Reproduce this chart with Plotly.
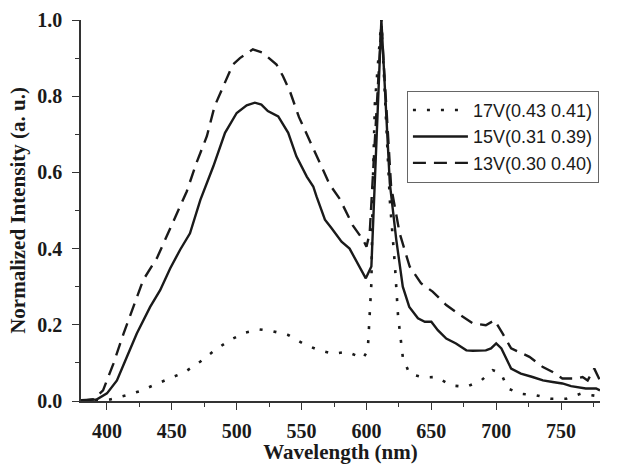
import plotly.graph_objects as go

# 17V (dotted)
wl_17 = [380, 390, 402.5, 415, 425.6, 437, 448.7, 460, 471.8, 483, 494.8, 506.4, 517.4, 528,
         539.7, 551, 562, 574, 585, 597.4, 601, 603.8, 604.8, 606.5, 611.5, 618, 622, 624.4,
         628, 633, 643.5, 653.8, 665, 677, 688.5, 697.4, 703.8, 708.9, 719, 730.8, 742.3,
         754, 765, 776, 780]
int_17 = [0.0, 0.002, 0.004, 0.015, 0.026, 0.043, 0.059, 0.076, 0.103, 0.133, 0.160, 0.179,
          0.188, 0.183, 0.173, 0.151, 0.135, 0.124, 0.129, 0.112, 0.133, 0.309, 0.55, 0.78,
          1.0, 0.528, 0.353, 0.221, 0.116, 0.072, 0.062, 0.063, 0.041, 0.037, 0.054, 0.081,
          0.072, 0.033, 0.019, 0.015, 0.006, 0.006, 0.019, 0.015, 0.012]

# 15V (solid)
wl_15 = [380, 392, 400, 407.7, 415.4, 423, 433.3, 441, 448.7, 456.4, 464, 472, 482, 491, 500,
         507.7, 514, 519, 524, 532, 539.7, 546, 554, 559, 561.5, 568, 573, 580.8, 587, 593.5,
         599.5, 603.8, 611.5, 618, 623, 628, 633, 639.7, 645, 650, 655, 661.5, 669, 677, 682,
         692, 696, 700, 704, 711.5, 719, 728, 736, 743.5, 751, 757.7, 762.8, 769, 777, 780]
int_15 = [0.002, 0.004, 0.02, 0.054, 0.116, 0.177, 0.247, 0.291, 0.348, 0.397, 0.44, 0.528,
          0.616, 0.704, 0.756, 0.776, 0.783, 0.778, 0.761, 0.747, 0.704, 0.642, 0.589, 0.563,
          0.537, 0.476, 0.454, 0.418, 0.40, 0.361, 0.322, 0.353, 1.0, 0.572, 0.423, 0.30,
          0.247, 0.217, 0.208, 0.208, 0.186, 0.164, 0.151, 0.133, 0.132, 0.133, 0.138, 0.151,
          0.138, 0.085, 0.072, 0.063, 0.054, 0.05, 0.046, 0.039, 0.037, 0.033, 0.033, 0.028]

# 13V (dashed)
wl_13 = [380, 390, 397, 405, 412.8, 420.5, 428, 438.5, 446, 453.8, 461.5, 469, 477, 483,
         489.5, 497, 502.5, 512.5, 520, 530.7, 535.6, 541, 548, 556, 564, 571.7, 579.5,
         589.6, 597.4, 600, 602.5, 611.5, 619, 625.6, 633.3, 642, 651, 661.5, 672, 682, 692,
         698.7, 705, 711.5, 725.6, 736, 743.5, 751, 761.5, 766.6, 770.5, 775.6, 780]
int_13 = [0.0, 0.005, 0.028, 0.098, 0.177, 0.247, 0.318, 0.375, 0.432, 0.493, 0.55, 0.625,
          0.695, 0.774, 0.826, 0.883, 0.90, 0.923, 0.914, 0.883, 0.853, 0.813, 0.745, 0.686,
          0.625, 0.568, 0.53, 0.46, 0.423, 0.405, 0.44, 0.99, 0.563, 0.44, 0.353, 0.309,
          0.287, 0.252, 0.226, 0.204, 0.199, 0.212, 0.177, 0.138, 0.116, 0.089, 0.076, 0.059,
          0.059, 0.063, 0.054, 0.085, 0.054]

names = ["17V(0.43 0.41)", "15V(0.31 0.39)", "13V(0.30 0.40)"]
x_ticks = [400, 450, 500, 550, 600, 650, 700, 750]
y_ticks = [0.0, 0.2, 0.4, 0.6, 0.8, 1.0]

ink = "#1a1a1a"
axc = "#333333"
fig = go.Figure()
fig.add_trace(go.Scatter(x=wl_17, y=int_17, mode="lines", name=names[0],
                         line=dict(color=ink, width=2.6, dash="3px,11px")))
fig.add_trace(go.Scatter(x=wl_15, y=int_15, mode="lines", name=names[1],
                         line=dict(color=ink, width=2.4)))
fig.add_trace(go.Scatter(x=wl_13, y=int_13, mode="lines", name=names[2],
                         line=dict(color=ink, width=2.4, dash="13px,8px")))

serif = "Liberation Serif"
tickfont = dict(family=serif, size=20, color=ink, weight="bold")
titlefont = dict(family=serif, size=21, color=ink, weight="bold")
fig.update_layout(
    width=617, height=464,
    margin=dict(l=81, r=17, t=20, b=63, autoexpand=False),
    paper_bgcolor="white", plot_bgcolor="white",
    showlegend=True,
    legend=dict(x=0.628, y=0.814, xanchor="left", yanchor="top",
                bordercolor="#666666", borderwidth=1, bgcolor="white",
                font=dict(family="Liberation Sans", size=18, color=ink),
                itemwidth=55, tracegroupgap=0),
    xaxis=dict(range=[380, 780], tickvals=x_ticks, ticks="outside", ticklen=7,
               tickwidth=1.3, tickcolor=axc, showline=True, linecolor=axc,
               linewidth=1.5, showgrid=False, zeroline=False, automargin=False,
               tickfont=tickfont, ticklabelstandoff=4,
               minor=dict(ticks="outside", ticklen=4, dtick=25, tick0=0,
                          tickcolor=axc, showgrid=False),
               title=dict(text="Wavelength (nm)", font=titlefont, standoff=14)),
    yaxis=dict(range=[0, 1.0], tickvals=y_ticks, tickformat=".1f", ticks="outside",
               ticklen=7, tickwidth=1.3, tickcolor=axc, showline=True,
               linecolor=axc, linewidth=1.5, showgrid=False, zeroline=False,
               automargin=False, tickfont=tickfont, ticklabelstandoff=6,
               minor=dict(ticks="outside", ticklen=4, dtick=0.1, tick0=0,
                          tickcolor=axc, showgrid=False),
               title=dict(text="Normalized Intensity (a. u.)", font=titlefont, standoff=6)),
)

fig.write_html("out.html")
